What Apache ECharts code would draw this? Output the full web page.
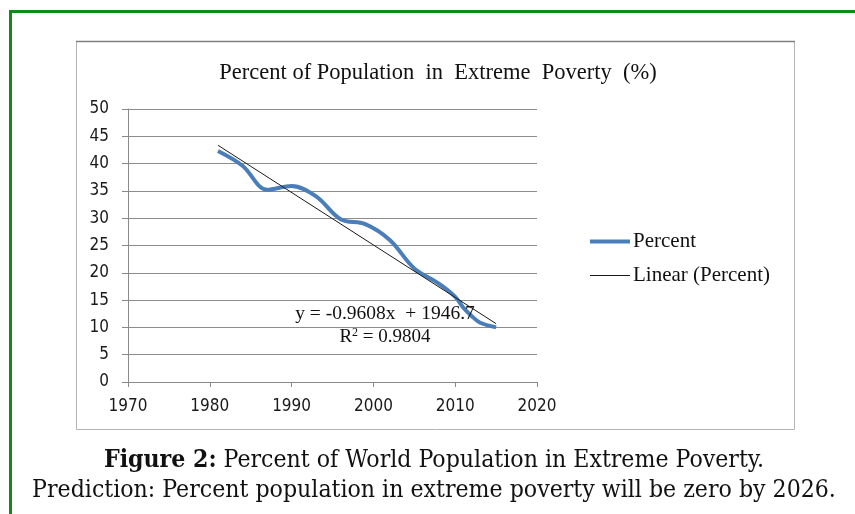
<!DOCTYPE html>
<html>
<head>
<meta charset="utf-8">
<script src="https://cdn.jsdelivr.net/npm/echarts@6/dist/echarts.min.js"></script>
<style>
  html, body { margin: 0; padding: 0; background: #fff; }
  #chart { width: 855px; height: 514px; }
</style>
</head>
<body>
<div id="chart"></div>
<script>
// Share of world population living in extreme poverty, by survey year
const years = [1981, 1984, 1987, 1990, 1993, 1996, 1999, 2002, 2005, 2008, 2010, 2011, 2012, 2013, 2015];
const percent = [42.3, 39.6, 35.2, 35.9, 34.0, 29.8, 28.9, 26.0, 20.8, 18.0, 15.6, 13.6, 12.1, 10.9, 10.0];

// Least-squares trend reported on the chart
const trendSlope = -0.9608;
const trendIntercept = 1946.7;
const trendR2 = 0.9804;

const xTicks = { min: 1970, max: 2020, step: 10 };
const yTicks = { min: 0, max: 50, step: 5 };

const titleText = 'Percent of Population  in  Extreme  Poverty  (%)';
const seriesNames = ['Percent', 'Linear (Percent)'];
const captionBold = 'Figure 2:';
const captionLine1 = ' Percent of World Population in Extreme Poverty.';
const captionLine2 = 'Prediction: Percent population in extreme poverty will be zero by 2026.';

const serif = '"Liberation Serif", "Times New Roman", serif';
const capFont = '"DejaVu Serif Condensed", "DejaVu Serif", serif';
const tickFont = '"DejaVu Sans Condensed", sans-serif';

const percentData = years.map((y, i) => [y, percent[i]]);
const trendX = [years[0], years[years.length - 1]];
const trendData = trendX.map(x => [x, trendSlope * x + trendIntercept]);

const chart = echarts.init(document.getElementById('chart'), null, { renderer: 'canvas' });

chart.setOption({
  animation: false,
  backgroundColor: '#fff',
  title: {
    text: titleText,
    left: 433,
    top: 57,
    textAlign: 'center',
    textStyle: { fontFamily: serif, fontSize: 22.5, fontWeight: 'normal', color: '#111' }
  },
  grid: { left: 128, top: 109, width: 409, height: 273, containLabel: false },
  xAxis: {
    type: 'value',
    min: xTicks.min, max: xTicks.max, interval: xTicks.step,
    axisLine: { show: true, lineStyle: { color: '#8a8a8a', width: 1 } },
    axisTick: { show: true, length: 5, lineStyle: { color: '#8a8a8a' } },
    axisLabel: { margin: 16, fontFamily: tickFont, fontSize: 17, color: '#1a1a1a',
                 formatter: v => String(v) },
    splitLine: { show: false }
  },
  yAxis: {
    type: 'value',
    min: yTicks.min, max: yTicks.max, interval: yTicks.step,
    axisLine: { show: true, lineStyle: { color: '#8a8a8a', width: 1 } },
    axisTick: { show: true, length: 6, lineStyle: { color: '#8a8a8a' } },
    axisLabel: { margin: 19, fontFamily: tickFont, fontSize: 17, color: '#1a1a1a' },
    splitLine: { show: true, lineStyle: { color: '#8c8c8c', width: 1 } }
  },
  legend: {
    orient: 'vertical',
    left: 590,
    top: 231,
    padding: 0,
    itemWidth: 40,
    itemHeight: 14,
    itemGap: 13,
    textStyle: { fontFamily: serif, fontSize: 21, color: '#111', padding: [0, 0, 0, -2] },
    data: [
      { name: seriesNames[0], icon: 'path://M0,0H40V4H0Z', itemStyle: { color: '#4a7ebb' } },
      { name: seriesNames[1], icon: 'path://M0,0H40V1H0Z', itemStyle: { color: '#1a1a1a' } }
    ]
  },
  series: [
    {
      name: seriesNames[0],
      type: 'line',
      data: percentData,
      smooth: 0.35,
      symbol: 'none',
      lineStyle: { color: '#4a7ebb', width: 4 },
      itemStyle: { color: '#4a7ebb' },
      z: 2
    },
    {
      name: seriesNames[1],
      type: 'line',
      data: trendData,
      symbol: 'none',
      lineStyle: { color: '#1a1a1a', width: 1 },
      itemStyle: { color: '#1a1a1a' },
      z: 3
    }
  ],
  graphic: [
    // outer green frame
    { type: 'rect', shape: { x: 10.5, y: 11.5, width: 900, height: 600 },
      style: { fill: null, stroke: '#138a13', lineWidth: 3 }, silent: true, z: 0 },
    // chart area border
    { type: 'rect', shape: { x: 76.5, y: 41.5, width: 718, height: 388 },
      style: { fill: null, stroke: '#b4b4b4', lineWidth: 1 }, silent: true, z: 0 },
    { type: 'line', shape: { x1: 76, y1: 41.5, x2: 795, y2: 41.5 },
      style: { stroke: '#808080', lineWidth: 1.5 }, silent: true, z: 0 },
    // trend equation
    { type: 'text', x: 385, y: 314, z: 10,
      style: { text: 'y = -0.9608x  + 1946.7', align: 'center', verticalAlign: 'middle',
               font: '19.5px ' + serif, fill: '#111' } },
    { type: 'text', x: 385, y: 337, z: 10,
      style: { rich: { b: { font: '19px ' + serif, fill: '#111' }, s: { font: '12px ' + serif, fill: '#111', verticalAlign: 'top', padding: [0, 0, 8, 0] } },
               text: '{b|R}{s|2}{b| = ' + trendR2.toFixed(4) + '}', align: 'center', verticalAlign: 'middle' } },
    // caption
    { type: 'text', x: 434, y: 461, z: 10,
      style: { rich: {
                 b: { font: 'bold 24.6px ' + capFont, fill: '#111' },
                 n: { font: '24.6px ' + capFont, fill: '#111' } },
               text: '{b|' + captionBold + '}{n|' + captionLine1 + '}', align: 'center', verticalAlign: 'middle' } },
    { type: 'text', x: 434, y: 491, z: 10,
      style: { text: captionLine2, align: 'center', verticalAlign: 'middle',
               font: '24.6px ' + capFont, fill: '#111' } }
  ]
});
</script>
</body>
</html>
